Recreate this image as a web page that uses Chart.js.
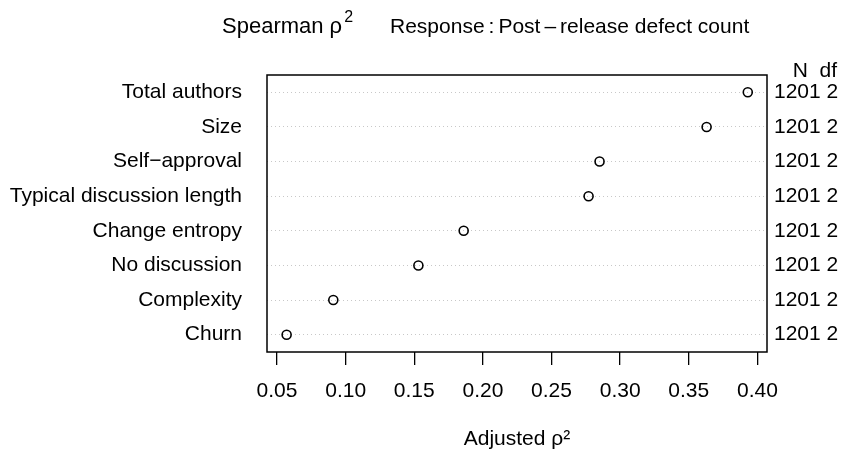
<!DOCTYPE html>
<html>
<head>
<meta charset="utf-8">
<script src="https://cdn.jsdelivr.net/npm/chart.js@4.4.1/dist/chart.umd.min.js"></script>
<style>
  html, body { margin: 0; padding: 0; background: #fff; }
  #wrap { width: 841px; height: 453px; }
</style>
</head>
<body>
<div id="wrap"><canvas id="rhoChart"></canvas></div>
<script>
// predictors, top to bottom
const predictors = ['Total authors', 'Size', 'Self\u2212approval', 'Typical discussion length',
  'Change entropy', 'No discussion', 'Complexity', 'Churn'];
const rhoValues = [0.393, 0.363, 0.285, 0.277, 0.186, 0.153, 0.091, 0.057];
const nValues = [1201, 1201, 1201, 1201, 1201, 1201, 1201, 1201];
const dfValues = [2, 2, 2, 2, 2, 2, 2, 2];
const xTicks = [0.05, 0.10, 0.15, 0.20, 0.25, 0.30, 0.35, 0.40];

const FONT = "'Liberation Sans', Arial, sans-serif";
Chart.defaults.font.family = FONT;
Chart.defaults.font.size = 21;
Chart.defaults.color = '#000';

// plot box, main title and N/df header
const decorations = {
  id: 'decorations',
  afterDraw(chart) {
    const { ctx, chartArea: a } = chart;
    ctx.save();
    ctx.strokeStyle = '#000';
    ctx.lineWidth = 1.5;
    ctx.strokeRect(a.left, a.top, a.right - a.left, a.bottom - a.top);

    ctx.fillStyle = '#000';
    ctx.textBaseline = 'alphabetic';
    ctx.textAlign = 'left';
    ctx.font = '22px ' + FONT;
    const t1 = 'Spearman \u03c1';
    ctx.fillText(t1, 222, 33);
    const w1 = ctx.measureText(t1).width;
    ctx.font = '16px ' + FONT;
    ctx.fillText('2', 222 + w1 + 2, 22);

    // plotmath-like spacing for the response part
    ctx.font = '21px ' + FONT;
    let x = 390;
    ['Response', ':', 'Post', '\u2013', 'release defect count'].forEach(p => {
      ctx.fillText(p, x, 33);
      x += ctx.measureText(p).width + 4;
    });

    ctx.textAlign = 'right';
    ctx.fillText('N', 808, 77);
    ctx.fillText('df', 837, 77);
    ctx.restore();
  }
};

new Chart(document.getElementById('rhoChart'), {
  type: 'scatter',
  data: {
    datasets: [{
      data: rhoValues.map((v, i) => ({ x: v, y: predictors[i] })),
      pointStyle: 'circle',
      pointRadius: 4.5,
      pointBorderWidth: 1.6,
      pointBorderColor: '#000',
      pointBackgroundColor: 'rgba(0,0,0,0)'
    }]
  },
  options: {
    responsive: true,
    maintainAspectRatio: false,
    animation: false,
    layout: { padding: { top: 75, left: 0, right: 0, bottom: 0 } },
    plugins: { legend: { display: false }, tooltip: { enabled: false } },
    scales: {
      x: {
        type: 'linear',
        min: 0.0427,
        max: 0.407,
        afterBuildTicks: s => { s.ticks = xTicks.map(v => ({ value: v })); },
        afterFit: s => { s.height = 101; },
        border: { display: false },
        grid: { drawOnChartArea: false, drawTicks: true, tickLength: 13, color: '#000', lineWidth: 1.3 },
        ticks: { padding: 14, maxRotation: 0, callback: v => Number(v).toFixed(2) },
        title: { display: true, text: 'Adjusted \u03c1\u00b2', padding: { top: 0, bottom: 1 } }
      },
      y: {
        type: 'category',
        labels: predictors,
        offset: true,
        afterFit: s => { s.width = 267; },
        border: { display: false, dash: [1, 3] },
        grid: { offset: false, drawTicks: false, color: '#c8c8c8', lineWidth: 1 },
        ticks: { padding: 25 }
      },
      y2: {
        type: 'category',
        position: 'right',
        labels: predictors,
        offset: true,
        afterFit: s => { s.width = 74; },
        border: { display: false },
        grid: { display: false, drawTicks: false },
        ticks: { padding: 7, callback: (v, i) => nValues[i] + ' ' + dfValues[i] }
      }
    }
  },
  plugins: [decorations]
});
</script>
</body>
</html>
